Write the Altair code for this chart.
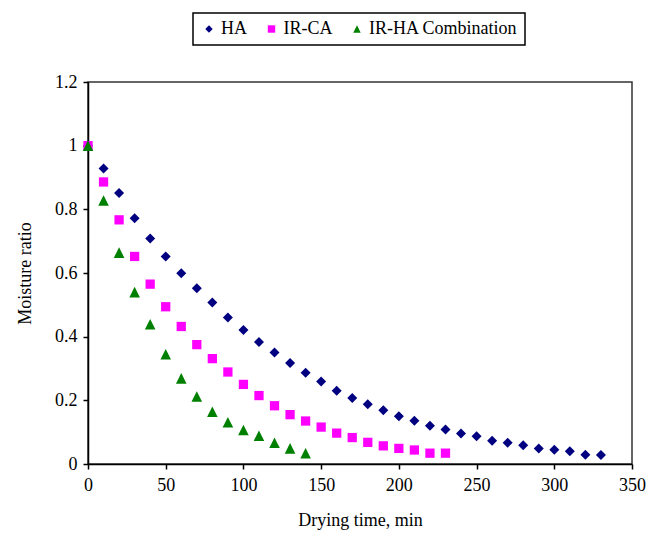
import altair as alt
import pandas as pd

series_names = ["HA", "IR-CA", "IR-HA Combination"]
series_colors = ["#000080", "#FF00FF", "#008000"]
series_shapes = ["diamond", "square", "M0,-1L-1,1L1,1Z"]
series_sizes = [100, 86, 112]

ha_time = [0, 10, 20, 30, 40, 50, 60, 70, 80, 90, 100, 110, 120, 130, 140, 150, 160,
           170, 180, 190, 200, 210, 220, 230, 240, 250, 260, 270, 280, 290, 300, 310, 320, 330]
ha_mr = [1.0, 0.928, 0.851, 0.772, 0.708, 0.652, 0.599, 0.552, 0.507, 0.46, 0.421, 0.383,
         0.35, 0.317, 0.287, 0.259, 0.23, 0.207, 0.188, 0.169, 0.15, 0.136, 0.12, 0.108,
         0.096, 0.087, 0.073, 0.067, 0.059, 0.049, 0.045, 0.040, 0.029, 0.028]

irca_time = [0, 10, 20, 30, 40, 50, 60, 70, 80, 90, 100, 110, 120, 130, 140, 150, 160,
             170, 180, 190, 200, 210, 220, 230]
irca_mr = [1.0, 0.886, 0.767, 0.652, 0.565, 0.494, 0.432, 0.375, 0.331, 0.289, 0.25, 0.215,
           0.183, 0.155, 0.135, 0.116, 0.097, 0.083, 0.068, 0.057, 0.049, 0.044, 0.034, 0.034]

irha_time = [0, 10, 20, 30, 40, 50, 60, 70, 80, 90, 100, 110, 120, 130, 140]
irha_mr = [1.0, 0.828, 0.664, 0.54, 0.439, 0.345, 0.269, 0.212, 0.164, 0.131, 0.107, 0.089,
           0.067, 0.049, 0.034]

x_ticks = [0, 50, 100, 150, 200, 250, 300, 350]
y_ticks = [0, 0.2, 0.4, 0.6, 0.8, 1.0, 1.2]

rows = []
for name, ts, vs in [(series_names[0], ha_time, ha_mr),
                     (series_names[1], irca_time, irca_mr),
                     (series_names[2], irha_time, irha_mr)]:
    for t, v in zip(ts, vs):
        rows.append({"series": name, "time": t, "mr": v})
df = pd.DataFrame(rows)

FONT = "Liberation Serif"
FS = 18

base = alt.Chart(df).encode(
    x=alt.X("time:Q", title="Drying time, min",
            scale=alt.Scale(domain=[0, 350], nice=False, zero=False),
            axis=alt.Axis(values=x_ticks, labelPadding=7, titlePadding=17)),
    y=alt.Y("mr:Q", title="Moisture ratio",
            scale=alt.Scale(domain=[0, 1.2], nice=False),
            axis=alt.Axis(values=y_ticks, labelPadding=6, titlePadding=20,
                          labelExpr="datum.value == 0 ? '0' : format(datum.value, '.1~f')")),
    color=alt.Color("series:N", title=None,
                    scale=alt.Scale(domain=series_names, range=series_colors)),
    shape=alt.Shape("series:N", title=None,
                    scale=alt.Scale(domain=series_names, range=series_shapes)),
)

layers = [
    base.transform_filter(alt.datum.series == name).mark_point(
        filled=True, opacity=1, size=sz)
    for name, sz in zip(series_names, series_sizes)
]

chart = alt.layer(*layers).properties(
    width=544, height=382,
    autosize=alt.AutoSizeParams(type="none"),
    padding={"left": 88, "top": 82, "right": 25, "bottom": 70},
).configure_view(
    stroke="#333333", strokeWidth=1.5
).configure_axis(
    grid=False, domainColor="black", domainWidth=1.5, tickColor="black",
    tickSize=5, tickWidth=1.5, labelFont=FONT, labelFontSize=FS, labelColor="black",
    titleFont=FONT, titleFontSize=FS, titleFontWeight="normal", titleColor="black",
    labelFlush=False, labelOverlap=False,
).configure_legend(
    orient="none", legendX=105, legendY=-69, direction="horizontal",
    strokeColor="black", strokeWidth=1.5, fillColor="white", padding=7,
    labelFont=FONT, labelFontSize=FS, labelColor="black", symbolSize=55,
    columnPadding=15.5, symbolStrokeWidth=0, labelOffset=3,
)

chart.save("out.html", embed_options={"renderer": "svg", "actions": False})
